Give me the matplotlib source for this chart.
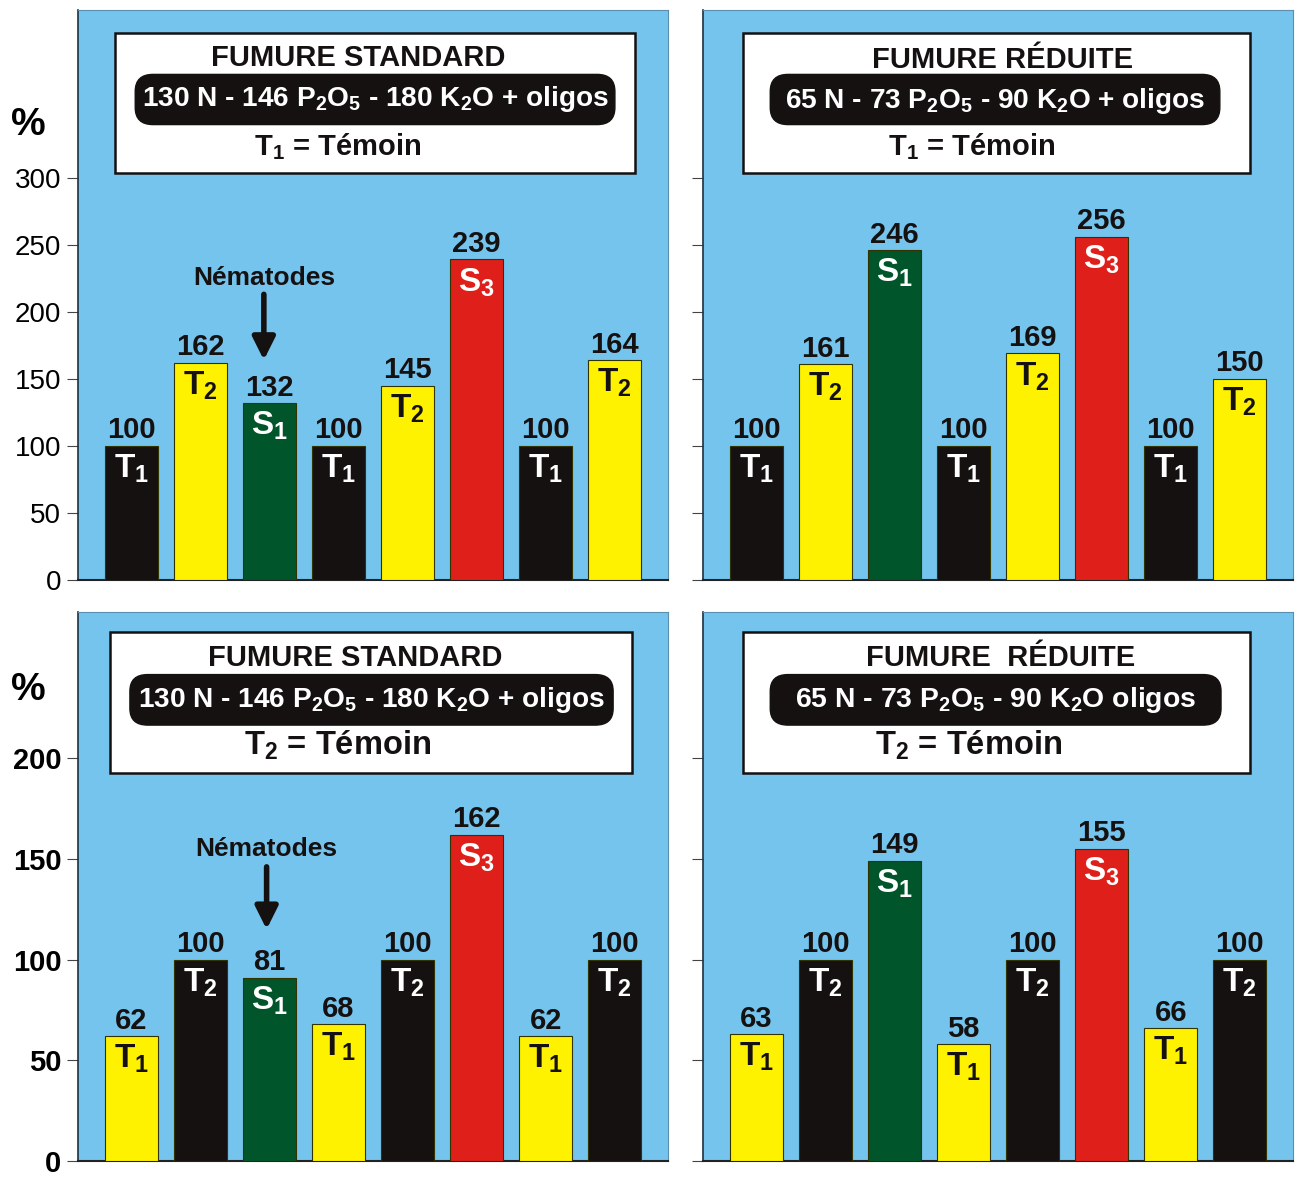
import matplotlib
matplotlib.use("Agg")
import matplotlib.pyplot as plt
from matplotlib.patches import FancyBboxPatch, Rectangle
from matplotlib import font_manager as fm

names = {f.name for f in fm.fontManager.ttflist}
NARROW = "Liberation Sans Narrow" if "Liberation Sans Narrow" in names else "Liberation Sans"
WIDE = "Liberation Sans"

plt.rcParams["mathtext.fontset"] = "custom"
plt.rcParams["mathtext.rm"] = NARROW + ":bold"
plt.rcParams["mathtext.bf"] = WIDE + ":bold"
plt.rcParams["mathtext.it"] = NARROW + ":bold"

# ---------------- data ----------------
bar_codes = ["T1", "T2", "S1", "T1", "T2", "S3", "T1", "T2"]

tl_values = [100, 162, 132, 100, 145, 239, 100, 164]
tr_values = [100, 161, 246, 100, 169, 256, 100, 150]
bl_values = [62, 100, 91, 68, 100, 162, 62, 100]
bl_labels = ["62", "100", "81", "68", "100", "162", "62", "100"]
br_values = [63, 100, 149, 58, 100, 155, 66, 100]

top_ticks = [0, 50, 100, 150, 200, 250, 300]
bottom_ticks = [0, 50, 100, 150, 200]

titles = ["FUMURE STANDARD", "FUMURE RÉDUITE", "FUMURE STANDARD", "FUMURE  RÉDUITE"]
doses = [r"130 N - 146 P$_2$O$_5$ - 180 K$_2$O + oligos",
         r"65 N - 73 P$_2$O$_5$ - 90 K$_2$O + oligos",
         r"130 N - 146 P$_2$O$_5$ - 180 K$_2$O + oligos",
         r"65 N - 73 P$_2$O$_5$ - 90 K$_2$O oligos"]
temoins = [r"T$_1$ = Témoin", r"T$_1$ = Témoin", r"T$_{\mathbf{2}}$ = Témoin", r"T$_{\mathbf{2}}$ = Témoin"]

BLUE = "#74C4EE"
BLACK = "#161111"
YELLOW = "#FFF200"
GREEN = "#00552A"
RED = "#DF1F1A"

top_colors = {"T1": BLACK, "T2": YELLOW, "S1": GREEN, "S3": RED}
bottom_colors = {"T1": YELLOW, "T2": BLACK, "S1": GREEN, "S3": RED}
label_color_top = {"T1": "white", "T2": BLACK, "S1": "white", "S3": "white"}
label_color_bottom = {"T1": BLACK, "T2": "white", "S1": "white", "S3": "white"}

W, H = 1296, 1180
fig = plt.figure(figsize=(W / 100, H / 100), dpi=100)

def rect(x0, y0, x1, y1):
    return [x0 / W, 1 - y1 / H, (x1 - x0) / W, (y1 - y0) / H]

ax_tl = fig.add_axes(rect(78, 10, 668, 580))
ax_tr = fig.add_axes(rect(703, 10, 1293, 580))
ax_bl = fig.add_axes(rect(78, 612, 668, 1161))
ax_br = fig.add_axes(rect(703, 612, 1293, 1161))

def code_label(c):
    letter, num = c[0], c[1]
    return letter + r"$_{\mathbf{" + num + "}}$"

def draw(ax, values, labels, colors, lcolors, ylim, ticks, show_labels, bold_ticks):
    ax.set_facecolor(BLUE)
    xs = list(range(len(values)))
    ax.bar(xs, values, width=0.77, color=[colors[c] for c in bar_codes],
           edgecolor="#333300", linewidth=0.8, zorder=3)
    for x, v, lab, c in zip(xs, values, labels, bar_codes):
        ax.annotate(lab, (x, v), xytext=(0, 1), textcoords="offset points",
                    ha="center", va="bottom", fontsize=21, fontweight="bold",
                    family=WIDE, color=BLACK, zorder=4)
        ax.annotate(code_label(c), (x, v), xytext=(0, -5), textcoords="offset points",
                    ha="center", va="top", fontsize=24, fontweight="bold",
                    family=WIDE, color=lcolors[c], zorder=4)
    ax.set_xlim(-0.77, 7.77)
    ax.set_ylim(*ylim)
    ax.set_xticks([])
    ax.set_yticks(ticks)
    if show_labels:
        ax.set_yticklabels([str(t) for t in ticks], fontsize=20 if not bold_ticks else 21,
                           fontweight="bold" if bold_ticks else "normal", family=WIDE)
    else:
        ax.set_yticklabels([])
    ax.tick_params(axis="y", length=8, width=0.8, color="#444444", pad=4)
    for s in ["top", "right"]:
        ax.spines[s].set_color("#5A8FB0")
        ax.spines[s].set_linewidth(0.8)
    ax.spines["left"].set_color("#1E3040")
    ax.spines["left"].set_linewidth(1.2)
    ax.spines["bottom"].set_color("#222222")
    ax.spines["bottom"].set_linewidth(1.5)

def box(ax, i, bx0, bx1, by0, by1, px0, px1, py0, py1, tx, t3x, ty1, ty2, ty3,
        t3family, t3size, dsize):
    ax.add_patch(Rectangle((bx0, by0), bx1 - bx0, by1 - by0, transform=ax.transAxes,
                           facecolor="white", edgecolor=BLACK, linewidth=1.8, zorder=5))
    r = 0.03
    ax.add_patch(FancyBboxPatch((px0 + r, py0 + r * 0.4), px1 - px0 - 2 * r, py1 - py0 - 0.8 * r,
                                boxstyle=f"round,pad={r * 0.6},rounding_size={r}",
                                transform=ax.transAxes, facecolor=BLACK, edgecolor=BLACK,
                                zorder=6))
    ax.text(tx, ty1, titles[i], transform=ax.transAxes, ha="center", va="center",
            fontsize=21, fontweight="bold", family=NARROW, color=BLACK, zorder=7)
    ax.text((px0 + px1) / 2, ty2, doses[i], transform=ax.transAxes, ha="center", va="center",
            fontsize=dsize, fontweight="bold", family=NARROW, color="white", zorder=7)
    ax.text(t3x, ty3, temoins[i], transform=ax.transAxes, ha="center", va="center",
            fontsize=t3size, fontweight="bold", family=t3family, color=BLACK, zorder=7)

draw(ax_tl, tl_values, [str(v) for v in tl_values], top_colors, label_color_top,
     (0, 425), top_ticks, True, False)
draw(ax_tr, tr_values, [str(v) for v in tr_values], top_colors, label_color_top,
     (0, 425), top_ticks, False, False)
draw(ax_bl, bl_values, bl_labels, bottom_colors, label_color_bottom,
     (0, 272.5), bottom_ticks, True, True)
draw(ax_br, br_values, [str(v) for v in br_values], bottom_colors, label_color_bottom,
     (0, 272.5), bottom_ticks, False, True)

box(ax_tl, 0, 0.063, 0.944, 0.714, 0.960, 0.085, 0.922, 0.805, 0.881,
    0.475, 0.44, 0.915, 0.843, 0.761, NARROW, 21, 20.2)
box(ax_tr, 1, 0.068, 0.927, 0.714, 0.960, 0.102, 0.888, 0.805, 0.881,
    0.508, 0.455, 0.913, 0.841, 0.760, NARROW, 21, 20.2)
box(ax_bl, 2, 0.054, 0.939, 0.707, 0.964, 0.076, 0.919, 0.800, 0.880,
    0.47, 0.44, 0.917, 0.840, 0.757, WIDE, 23.5, 20.2)
box(ax_br, 3, 0.068, 0.927, 0.707, 0.964, 0.102, 0.890, 0.800, 0.880,
    0.505, 0.45, 0.917, 0.840, 0.757, WIDE, 23.5, 20.4)

# Nématodes annotations
for ax, tx, ty, y0, y1 in [(ax_tl, 1.92, 225, 213, 164), (ax_bl, 1.96, 155, 146, 115)]:
    ax.text(tx, ty, "Nématodes", ha="center", va="center", fontsize=19,
            fontweight="bold", family=WIDE, color=BLACK, zorder=6)
    ax.annotate("", xy=(tx, y1), xytext=(tx, y0),
                arrowprops=dict(arrowstyle="-|>", color=BLACK, lw=4, mutation_scale=34,
                                shrinkA=0, shrinkB=0), zorder=6)

fig.text(28 / W, 1 - 125 / H, "%", fontsize=28, fontweight="bold", family=WIDE,
         ha="center", va="center")
fig.text(28 / W, 1 - 690 / H, "%", fontsize=28, fontweight="bold", family=WIDE,
         ha="center", va="center")

fig.savefig("out.png", dpi=100, facecolor="white")
